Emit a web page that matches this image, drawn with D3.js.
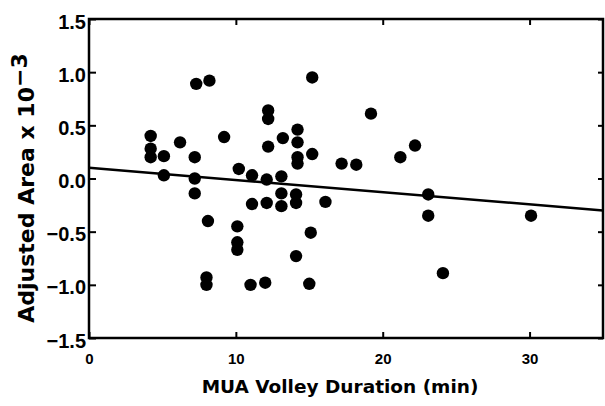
<!DOCTYPE html>
<html>
<head>
<meta charset="utf-8">
<script src="https://cdn.jsdelivr.net/npm/d3@7"></script>
<style>
  body { margin: 0; background: #fff; }
  svg { display: block; }
</style>
</head>
<body>
<svg width="605" height="406"></svg>
<script>
// data
var duration = [7.3, 8.2, 15.2, 12.2, 12.2, 4.2, 4.2, 4.2, 6.2, 9.2,
                5.1, 7.2, 14.2, 13.2, 14.2, 12.2, 15.2, 14.2, 14.2, 17.2,
                18.2, 19.2, 22.2, 21.2, 5.1, 7.2, 10.2, 11.1, 12.1, 13.1,
                7.2, 13.1, 14.1, 14.1, 11.1, 12.1, 13.1, 16.1, 23.1, 8.1,
                10.1, 10.1, 10.1, 15.1, 14.1, 8.0, 8.0, 11.0, 12.0, 15.0,
                23.1, 30.1, 24.1];
var area = [0.89, 0.92, 0.95, 0.64, 0.56, 0.40, 0.28, 0.20, 0.34, 0.39,
            0.21, 0.20, 0.46, 0.38, 0.34, 0.30, 0.23, 0.20, 0.14, 0.14,
            0.13, 0.61, 0.31, 0.20, 0.03, 0.00, 0.09, 0.03, -0.01, 0.02,
            -0.14, -0.14, -0.15, -0.23, -0.24, -0.23, -0.26, -0.22, -0.15, -0.40,
            -0.45, -0.60, -0.67, -0.51, -0.73, -0.93, -1.00, -1.00, -0.98, -0.99,
            -0.35, -0.35, -0.89];
// regression line end points
var fitX = [0, 35];
var fitY = [0.10, -0.30];

var xTicks = [0, 10, 20, 30];
var yTicks = [-1.5, -1.0, -0.5, 0.0, 0.5, 1.0, 1.5];

// plot box (pixels)
var svg = d3.select("svg"),
    pLeft = 89, pRight = 603, pTop = 19, pBottom = 338;

var x = d3.scaleLinear().domain([0, 35]).range([pLeft, pRight]);
var y = d3.scaleLinear().domain([-1.5, 1.5]).range([pBottom, pTop]);

var tickFont = "'Liberation Sans', Arial, sans-serif";

// frame
svg.append("rect")
    .attr("x", pLeft).attr("y", pTop)
    .attr("width", pRight - pLeft).attr("height", pBottom - pTop)
    .attr("fill", "none").attr("stroke", "#000").attr("stroke-width", 2.5);

// y axis, ticks pointing in
var yAxis = svg.append("g")
    .attr("transform", "translate(" + pLeft + ",0)")
    .call(d3.axisLeft(y).tickValues(yTicks).tickFormat(d3.format(".1f"))
      .tickSizeInner(-7).tickSizeOuter(0).tickPadding(3));
yAxis.select(".domain").remove();
yAxis.selectAll("line").attr("stroke-width", 2);
yAxis.selectAll("text")
    .attr("dy", "0.45em")
    .attr("font-family", tickFont).attr("font-weight", "bold").attr("font-size", 20)
    .attr("fill", "#000");

// right side ticks
var yRight = svg.append("g")
    .attr("transform", "translate(" + pRight + ",0)")
    .call(d3.axisRight(y).tickValues(yTicks).tickFormat("").tickSizeInner(-5).tickSizeOuter(0));
yRight.select(".domain").remove();
yRight.selectAll("line").attr("stroke-width", 2);

// x axis, ticks pointing up
var xAxis = svg.append("g")
    .attr("transform", "translate(0," + pBottom + ")")
    .call(d3.axisBottom(x).tickValues(xTicks).tickFormat(d3.format("d"))
      .tickSizeInner(-6).tickSizeOuter(0));
xAxis.select(".domain").remove();
xAxis.selectAll("line").attr("stroke-width", 2);
xAxis.selectAll("text")
    .attr("y", 26).attr("dy", 0)
    .attr("font-family", tickFont).attr("font-weight", "bold").attr("font-size", 15)
    .attr("fill", "#000");

// top ticks
var xTop = svg.append("g")
    .attr("transform", "translate(0," + pTop + ")")
    .call(d3.axisTop(x).tickValues(xTicks).tickFormat("").tickSizeInner(-6).tickSizeOuter(0));
xTop.select(".domain").remove();
xTop.selectAll("line").attr("stroke-width", 2);

// regression line
svg.append("line")
    .attr("x1", x(fitX[0])).attr("y1", y(fitY[0]))
    .attr("x2", x(fitX[1])).attr("y2", y(fitY[1]))
    .attr("stroke", "#000").attr("stroke-width", 2.5);

// points
svg.append("g")
  .selectAll("circle")
  .data(duration)
  .enter().append("circle")
    .attr("cx", function(d) { return x(d); })
    .attr("cy", function(d, i) { return y(area[i]); })
    .attr("r", 6.2)
    .attr("fill", "#000");

// axis titles
var titleFont = "'DejaVu Sans', sans-serif";
svg.append("text")
    .attr("x", 340).attr("y", 393)
    .attr("text-anchor", "middle")
    .attr("font-family", titleFont).attr("font-size", 18.5).attr("font-weight", "bold")
    .text("MUA Volley Duration (min)");

var yt = svg.append("text")
    .attr("transform", "translate(34,188) rotate(-90)")
    .attr("text-anchor", "middle")
    .attr("font-family", titleFont).attr("font-size", 22).attr("font-weight", "bold");
yt.append("tspan").text("Adjusted Area x 10");
yt.append("tspan").attr("dy", -7).text("\u22123");
</script>
</body>
</html>
